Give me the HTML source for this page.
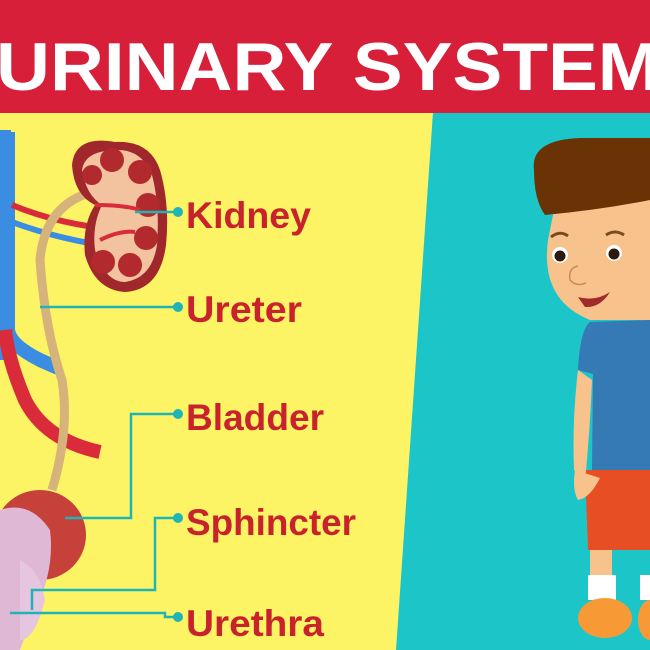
<!DOCTYPE html>
<html><head><meta charset="utf-8"><style>
html,body{margin:0;padding:0;width:650px;height:650px;overflow:hidden}
svg{display:block}
text{font-family:"Liberation Sans",sans-serif;font-weight:bold}
</style></head><body>
<svg width="650" height="650" viewBox="0 0 650 650" xmlns="http://www.w3.org/2000/svg">
<rect width="650" height="650" fill="#1cc6c8"/>
<polygon points="0,112 433,112 396,650 0,650" fill="#fdf465"/>
<rect width="650" height="113" fill="#d81f3a"/>
<text x="-4" y="90" font-size="68" fill="#fff" textLength="664" lengthAdjust="spacingAndGlyphs">URINARY SYSTEM</text>
<path d="M0,130 L0,360" stroke="#3a8de0" stroke-width="22"/>
<path d="M8,132 L8,330 Q10,345 40,360 L58,368" stroke="#3a8de0" stroke-width="14" fill="none"/>
<path d="M5,330 Q8,360 25,400 Q45,440 100,452" stroke="#d92b3a" stroke-width="14" fill="none"/>
<path d="M12,205 Q60,225 120,230" stroke="#d92b3a" stroke-width="6" fill="none"/>
<path d="M12,222 Q60,240 120,248" stroke="#3a8de0" stroke-width="6" fill="none"/>
<path d="M92,192 Q45,205 40,260 Q45,330 62,380 Q70,430 52,490" stroke="#d6b37a" stroke-width="9" fill="none"/>
<path d="M115,142 Q75,135 72,165 Q74,195 95,205 Q82,225 85,255 Q95,290 125,292 Q160,290 166,245 Q170,205 160,170 Q150,140 115,142Z" fill="#a0272b"/>
<path d="M118,150 Q85,150 82,170 Q86,195 102,205 Q92,225 95,250 Q105,282 125,282 Q152,278 157,245 Q160,205 152,175 Q142,150 118,150Z" fill="#f3c3a0"/>
<g fill="#b22a2e">
<circle cx="112" cy="160" r="12"/><circle cx="140" cy="172" r="12"/><circle cx="148" cy="205" r="12"/><circle cx="146" cy="238" r="12"/><circle cx="130" cy="265" r="12"/><circle cx="103" cy="262" r="12"/><circle cx="92" cy="175" r="10"/>
</g>
<path d="M95,205 Q125,205 140,210 M100,240 Q120,230 135,232" stroke="#d92b3a" stroke-width="4" fill="none"/>
<ellipse cx="40" cy="535" rx="46" ry="45" fill="#c6413a"/>
<path d="M0,510 Q30,500 50,530 Q55,570 35,610 L20,650 L0,650Z" fill="#dfb8d6"/>
<path d="M20,560 Q40,570 45,600 Q35,640 20,640Z" fill="#e6c6df"/>
<g stroke="#1eb5b6" stroke-width="2.5" fill="none">
<path d="M135,212 L177,212"/>
<path d="M40,307 L177,307"/>
<path d="M65,518 L131,518 L131,414 L177,414"/>
<path d="M32,610 L32,590 L155,590 L155,518 L177,518"/>
<path d="M10,613 L165,613 L165,617 L177,617"/>
</g>
<g fill="#1eb5b6">
<circle cx="178" cy="212" r="5"/><circle cx="178" cy="307" r="5"/><circle cx="178" cy="414" r="5"/><circle cx="178" cy="518" r="5"/><circle cx="178" cy="617" r="5"/>
</g>
<g font-size="37" fill="#c8232c">
<text x="186" y="228" textLength="125" lengthAdjust="spacingAndGlyphs">Kidney</text>
<text x="186" y="322" textLength="116" lengthAdjust="spacingAndGlyphs">Ureter</text>
<text x="186" y="430" textLength="138" lengthAdjust="spacingAndGlyphs">Bladder</text>
<text x="186" y="535" textLength="170" lengthAdjust="spacingAndGlyphs">Sphincter</text>
<text x="186" y="636" textLength="138" lengthAdjust="spacingAndGlyphs">Urethra</text>
</g>
<path d="M590,525 L590,600 L612,600 L612,525Z" fill="#f8c28d"/>
<rect x="588" y="575" width="28" height="25" fill="#fff"/>
<ellipse cx="605" cy="618" rx="27" ry="20" fill="#f79a36"/>
<rect x="640" y="575" width="12" height="25" fill="#fff"/>
<ellipse cx="650" cy="620" rx="12" ry="20" fill="#f79a36"/>
<path d="M585,470 L650,470 L650,550 L588,550Z" fill="#e84e23"/>
<path d="M578,370 Q572,420 574,470 L585,482 Q590,430 592,380Z" fill="#f8c28d"/>
<path d="M575,470 Q572,490 578,500 Q590,498 600,478Z" fill="#f8c28d"/>
<path d="M590,322 Q580,330 578,370 L593,374 L592,470 L650,470 L650,320Z" fill="#3579b5"/>
<path d="M548,240 Q540,300 590,320 L650,320 L650,200 L555,205Z" fill="#f8c28d"/>
<path d="M534,170 Q530,140 580,138 L650,138 L650,200 Q600,210 545,215 Q534,200 534,170Z" fill="#6a3306"/>
<circle cx="560" cy="255" r="8" fill="#fff"/><circle cx="560" cy="256" r="5.5" fill="#2a1a10"/>
<circle cx="614" cy="253" r="8" fill="#fff"/><circle cx="614" cy="254" r="5.5" fill="#2a1a10"/>
<path d="M551,237 Q560,230 568,236 M606,235 Q615,229 624,235" stroke="#7a4a20" stroke-width="3" fill="none"/>
<path d="M578,266 Q568,268 570,280 Q576,287 586,283" stroke="#c98a5a" stroke-width="1.5" fill="none"/>
<path d="M578,297 Q595,302 610,292 Q600,308 585,307Z" fill="#a12a2a"/>
</svg>
</body></html>
